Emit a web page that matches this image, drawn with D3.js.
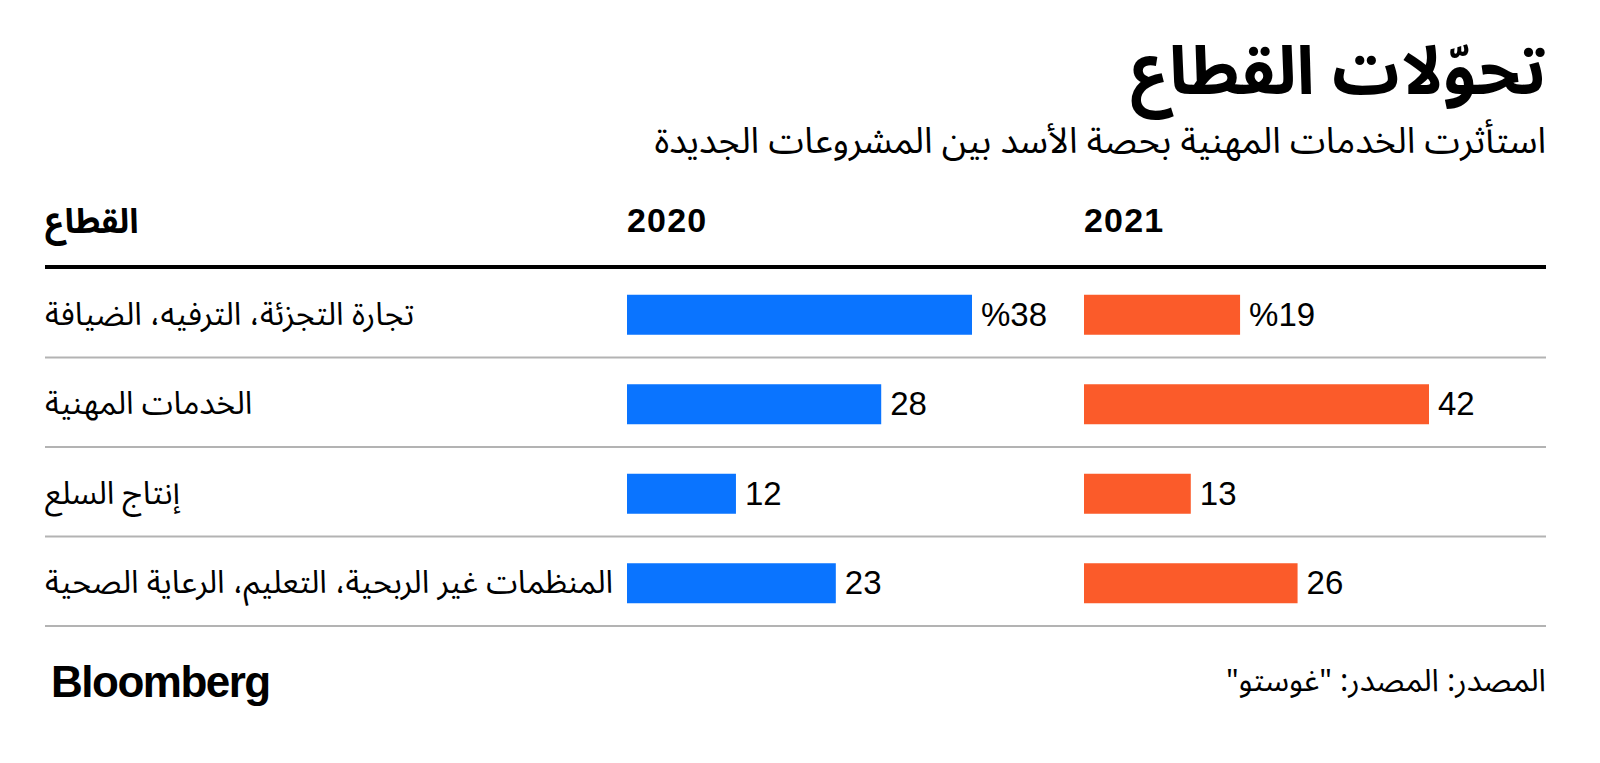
<!DOCTYPE html>
<html><head><meta charset="utf-8">
<script src="https://cdn.jsdelivr.net/npm/d3@7"></script>
<style>
html,body{margin:0;padding:0;background:#fff;}
svg{display:block;}
.ar{font-family:"Noto Sans Arabic","DejaVu Sans",sans-serif;}
.num{font-family:"Liberation Sans",Arial,sans-serif;}
</style></head>
<body>
<svg id="chart" width="1600" height="763"></svg>
<script>
const title = "تحوّلات القطاع";
const subtitle = "استأثرت الخدمات المهنية بحصة الأسد بين المشروعات الجديدة";
const sectorHeader = "القطاع";
const years = ["2020", "2021"];
const categories = ["تجارة التجزئة، الترفيه، الضيافة", "الخدمات المهنية", "إنتاج السلع", "المنظمات غير الربحية، التعليم، الرعاية الصحية"];
const values2020 = [38, 28, 12, 23];
const values2021 = [19, 42, 13, 26];
const valueLabels2020 = ["%38", "28", "12", "23"];
const valueLabels2021 = ["%19", "42", "13", "26"];
const source = "المصدر: المصدر: \"غوستو\"";
const brand = "Bloomberg";

const svg = d3.select("#chart");
const colors = ["#0a74ff", "#fb5b2a"];
const left = 45, right = 1546;

// Title & subtitle
svg.append("text").attr("class","ar").attr("x", right).attr("y", 94)
  .attr("direction","rtl").attr("text-anchor","start")
  .attr("font-size", 67).attr("font-weight", "bold").attr("fill","#000").text(title);
svg.append("text").attr("class","ar").attr("x", right).attr("y", 153)
  .attr("direction","rtl").attr("text-anchor","start")
  .attr("font-size", 36).attr("fill","#000").text(subtitle);

// Headers
svg.append("text").attr("class","ar").attr("x", left).attr("y", 233)
  .attr("direction","rtl").attr("text-anchor","end")
  .attr("font-size", 34).attr("font-weight","bold").text(sectorHeader);

const colX = [627, 1084];
const maxW = 345;
const series = [values2020, values2021];
const labels = [valueLabels2020, valueLabels2021];

years.forEach((yr, i) => {
  svg.append("text").attr("x", colX[i]).attr("y", 232)
    .attr("font-family","Liberation Sans, Arial, sans-serif")
    .attr("font-size", 34).attr("font-weight","bold").attr("letter-spacing", 1.2).text(yr);
});

// Scales
const y = d3.scaleBand().domain(categories).range([268, 626]);
const barH = 40;
const xs = series.map((vals, i) => d3.scaleLinear().domain([0, d3.max(vals)]).range([colX[i], colX[i] + maxW]));

// Gridlines
svg.append("g").selectAll("line").data(categories).join("line")
  .attr("x1", left).attr("x2", right)
  .attr("y1", d => y(d) + y.bandwidth()).attr("y2", d => y(d) + y.bandwidth())
  .attr("stroke", "#b3b3b3").attr("stroke-width", 2);
svg.append("line").attr("x1", left).attr("x2", right).attr("y1", 267).attr("y2", 267)
  .attr("stroke","#000").attr("stroke-width", 4);

const barY = d => y(d) + (y.bandwidth() - barH) / 2 + 2;

// Category labels
svg.append("g").selectAll("text").data(categories).join("text")
  .attr("class","ar").attr("x", left).attr("y", d => barY(d) + barH/2 + 10)
  .attr("direction","rtl").attr("text-anchor","end")
  .attr("font-size", 31.8).attr("fill","#000").text(d => d);

series.forEach((vals, i) => {
  const g = svg.append("g");
  g.selectAll("rect").data(vals).join("rect")
    .attr("x", xs[i](0)).attr("y", (d, j) => barY(categories[j]))
    .attr("width", d => xs[i](d) - xs[i](0)).attr("height", barH)
    .attr("fill", colors[i]);
  g.selectAll("text").data(vals).join("text")
    .attr("class","num")
    .attr("x", d => xs[i](d) + 9).attr("y", (d, j) => barY(categories[j]) + barH/2 + 11)
    .attr("font-size", 33).attr("fill","#000")
    .text((d, j) => labels[i][j]);
});

// Footer
svg.append("text").attr("class","ar").attr("x", right).attr("y", 691)
  .attr("direction","rtl").attr("text-anchor","start")
  .attr("font-size", 31).attr("fill","#000").text(source);
svg.append("text").attr("x", 51).attr("y", 697)
  .attr("font-family","Liberation Sans, Arial, sans-serif")
  .attr("font-size", 44).attr("font-weight","bold").attr("letter-spacing", -1.5).text(brand);
</script>
</body></html>
